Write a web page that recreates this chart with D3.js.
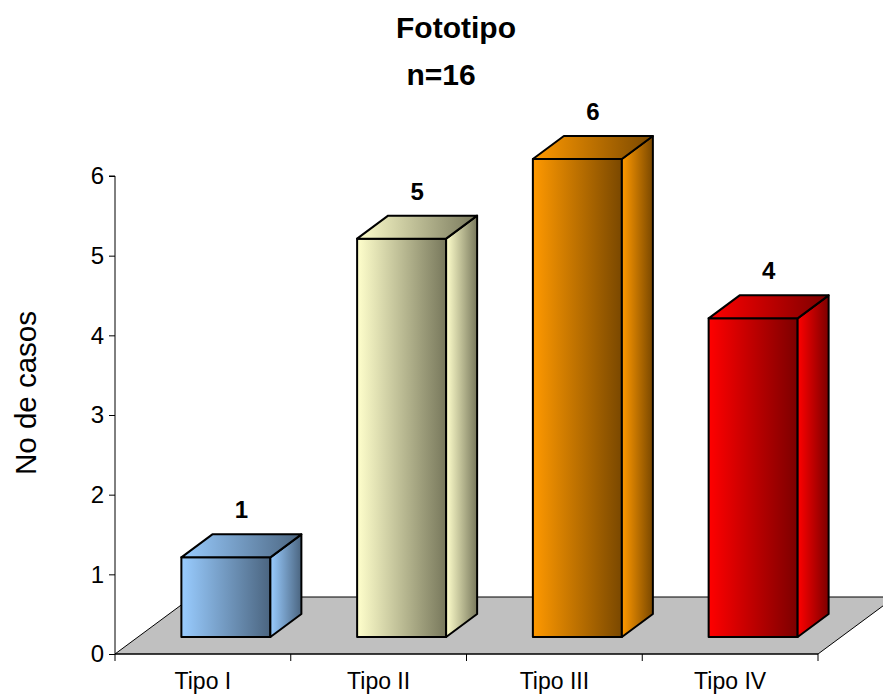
<!DOCTYPE html>
<html>
<head>
<meta charset="utf-8">
<script src="https://cdn.jsdelivr.net/npm/d3@7/dist/d3.min.js"></script>
<style>
  html, body { margin: 0; padding: 0; background: #fff; }
  svg { display: block; font-family: "Liberation Sans", Arial, sans-serif; }
</style>
</head>
<body>
<script>
// Chart data
const title = "Fototipo";
const subtitle = "n=16";
const yLabel = "No de casos";
const categories = ["Tipo I", "Tipo II", "Tipo III", "Tipo IV"];
const values = [1, 5, 6, 4];
const yTicks = [0, 1, 2, 3, 4, 5, 6];

// Face shading: light edge -> dark edge for each bar
const lightColors = ["#99ccff", "#ffffcc", "#ff9900", "#ff0000"];
const darkColors  = ["#4b6580", "#78785c", "#7a4800", "#7c0000"];

const W = 883, H = 694;
const svg = d3.select("body").append("svg").attr("width", W).attr("height", H);

// Front plane of the floor
const x = d3.scaleBand().domain(categories).range([115, 818]).padding(0);
const y = d3.scaleLinear().domain([0, 6]).range([654, 176]);

// Oblique depth vectors
const floorDepth = [77, -57];
const barOffset = [23, -17];   // front of bars, behind floor front edge
const barDepth = [31, -23];
const barW = 89;

const defs = svg.append("defs");
categories.forEach((c, i) => {
  const g = defs.append("linearGradient").attr("id", "grad" + i)
    .attr("x1", "0%").attr("y1", "0%").attr("x2", "100%").attr("y2", "0%");
  g.append("stop").attr("offset", "0%").attr("stop-color", lightColors[i]);
  g.append("stop").attr("offset", "100%").attr("stop-color", darkColors[i]);
});

// Floor
const [x0, x1] = x.range();
const y0 = y(0);
svg.append("polygon")
  .attr("points", [
    [x0, y0], [x1, y0],
    [x1 + floorDepth[0], y0 + floorDepth[1]],
    [x0 + floorDepth[0], y0 + floorDepth[1]]
  ].map(p => p.join(",")).join(" "))
  .attr("fill", "#c0c0c0").attr("stroke", "#000").attr("stroke-width", 1);

// Bars
const baseY = y0 + barOffset[1];
const bars = svg.append("g");
categories.forEach((c, i) => {
  const v = values[i];
  const left = x(c) + barOffset[0] + (x.bandwidth() - barW) / 2;
  const right = left + barW;
  const top = baseY - (y0 - y(v));
  const [dx, dy] = barDepth;
  const g = bars.append("g")
    .attr("stroke", "#000").attr("stroke-width", 2).attr("stroke-linejoin", "round")
    .attr("fill", `url(#grad${i})`);
  // front face
  g.append("polygon").attr("points",
    [[left, top], [right, top], [right, baseY], [left, baseY]].map(p => p.join(",")).join(" "));
  // right side
  g.append("polygon").attr("points",
    [[right, top], [right + dx, top + dy], [right + dx, baseY + dy], [right, baseY]].map(p => p.join(",")).join(" "));
  // top face
  g.append("polygon").attr("points",
    [[left, top], [left + dx, top + dy], [right + dx, top + dy], [right, top]].map(p => p.join(",")).join(" "));
  // value label
  svg.append("text")
    .attr("x", (left + right) / 2 + dx / 2)
    .attr("y", top + dy - 16)
    .attr("text-anchor", "middle")
    .attr("font-size", 24).attr("font-weight", "bold")
    .text(v);
});

// Y axis
const yAxis = d3.axisLeft(y).tickValues(yTicks).tickSize(6).tickPadding(5).tickFormat(d3.format("d"));
const gy = svg.append("g").attr("transform", `translate(${x0},0)`).call(yAxis);
gy.select(".domain").attr("stroke", "#000").attr("d", `M-6,${y(6)}H0V${y0}`);
gy.selectAll(".tick line").attr("stroke", "#000");
gy.selectAll(".tick text").attr("font-size", 24).attr("fill", "#000")
  .attr("font-family", "Liberation Sans, Arial, sans-serif");

// X axis (category boundaries as ticks)
svg.append("line").attr("x1", x0).attr("x2", x1).attr("y1", y0).attr("y2", y0)
  .attr("stroke", "#000");
const bounds = categories.map(c => x(c)).concat([x1]);
svg.selectAll(".xtick").data(bounds).join("line")
  .attr("x1", d => d).attr("x2", d => d)
  .attr("y1", y0).attr("y2", y0 + 7)
  .attr("stroke", "#000");
svg.selectAll(".xlab").data(categories).join("text")
  .attr("x", d => x(d) + x.bandwidth() / 2)
  .attr("y", 689)
  .attr("text-anchor", "middle")
  .attr("font-size", 23)
  .text(d => d);

// Titles
svg.append("text").attr("x", 456).attr("y", 38).attr("text-anchor", "middle")
  .attr("font-size", 30).attr("font-weight", "bold").text(title);
svg.append("text").attr("x", 441).attr("y", 85).attr("text-anchor", "middle")
  .attr("font-size", 30).attr("font-weight", "bold").text(subtitle);

// Y axis title
svg.append("text")
  .attr("transform", `translate(36,393) rotate(-90)`)
  .attr("text-anchor", "middle")
  .attr("font-size", 29.5)
  .text(yLabel);
</script>
</body>
</html>
